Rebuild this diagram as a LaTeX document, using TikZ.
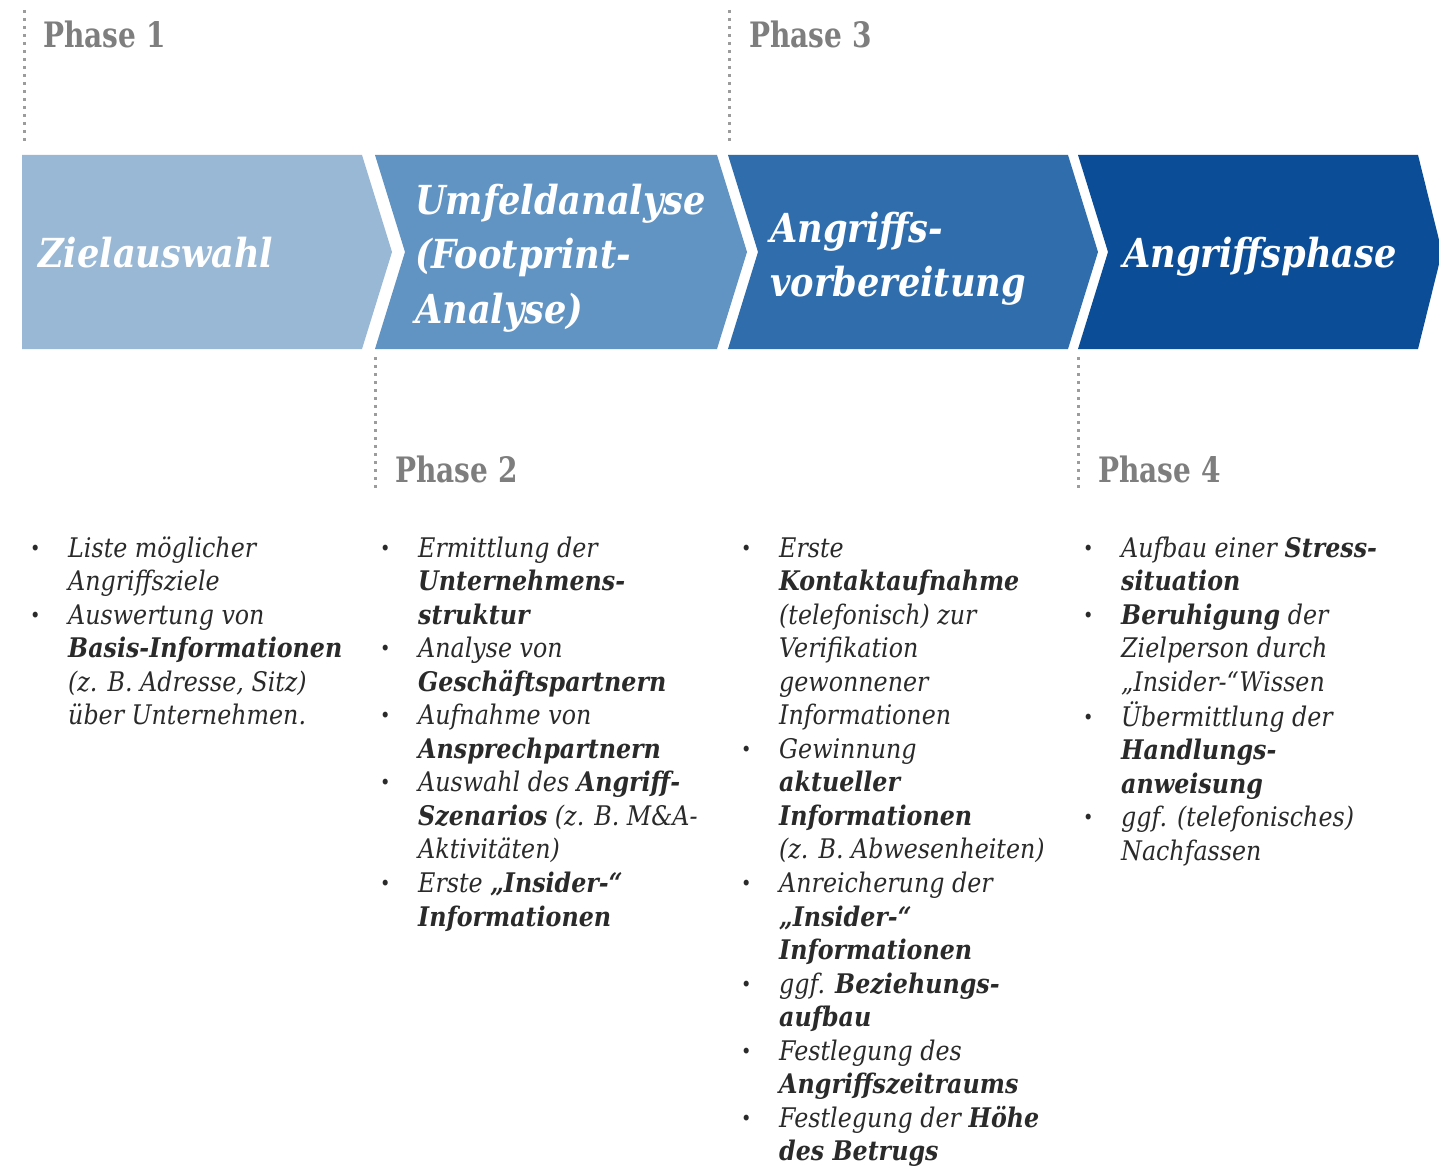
\documentclass[tikz,border=0pt]{standalone}
\usepackage{fontspec}
\setmainfont{DejaVu Serif}[FakeStretch=0.88]
\newfontfamily\phasefamily{DejaVu Serif}[FakeStretch=0.8]

\definecolor{chevA}{HTML}{98B8D5}
\definecolor{chevB}{HTML}{6193C3}
\definecolor{chevC}{HTML}{2F6DAD}
\definecolor{chevD}{HTML}{0B4E97}
\definecolor{phasegray}{HTML}{7E7E7E}
\definecolor{bodygray}{HTML}{2A2A2A}
\definecolor{guidegray}{HTML}{9C9C9C}

\newcommand{\chevfont}{\fontsize{40}{54}\selectfont\bfseries\itshape}
\newcommand{\phasefont}{\phasefamily\fontsize{35}{40}\selectfont\bfseries}
\newcommand{\bodyfont}{\fontsize{27}{33.55}\selectfont\itshape}
\newcommand{\hl}[1]{\textbf{#1}}
\newcommand{\bul}{\makebox[38pt][l]{\raisebox{2pt}{\fontsize{20}{20}\selectfont\upshape •}}}

\begin{document}
\begin{tikzpicture}[x=1pt,y=-1pt,
  chev/.style={fill=#1, draw=none},
  chevtext/.style={anchor=base west, inner sep=0pt, text=white, font=\chevfont},
  phase/.style={anchor=base west, inner sep=0pt, text=phasegray, font=\phasefont},
  col/.style={anchor=base west, inner sep=0pt, text=bodygray, font=\bodyfont},
  guide/.style={draw=guidegray, line width=3pt, dash pattern=on 3pt off 5pt}
]
\fill[white] (0,0) rectangle (1439,1166);
\path[use as bounding box] (0,0) rectangle (1439,1166);

% process chevrons
\fill[chev=chevA] (22,155) -- (362,155) -- (392,252) -- (362,349) -- (22,349) -- cycle;
\fill[chev=chevB] (375,155) -- (717,155) -- (747,252) -- (717,349) -- (375,349) -- (405,252) -- cycle;
\fill[chev=chevC] (728,155) -- (1068,155) -- (1098,252) -- (1068,349) -- (728,349) -- (758,252) -- cycle;
\fill[chev=chevD] (1078,155) -- (1418,155) -- (1442,252) -- (1418,349) -- (1078,349) -- (1108,252) -- cycle;

% dotted guides to the phase labels
\coordinate (g1a) at (24,10);   \coordinate (g1b) at (24,142);
\coordinate (g3a) at (729,10);  \coordinate (g3b) at (729,142);
\coordinate (g2a) at (375,357); \coordinate (g2b) at (375,490);
\coordinate (g4a) at (1078,357);\coordinate (g4b) at (1078,490);
\draw[guide] (g1a) -- (g1b);
\draw[guide] (g3a) -- (g3b);
\draw[guide] (g2a) -- (g2b);
\draw[guide] (g4a) -- (g4b);

% phase labels
\node[phase] (p1) at (43,48) {Phase 1};
\node[phase] (p3) at (749,48) {Phase 3};
\node[phase] (p2) at (395,482) {Phase 2};
\node[phase] (p4) at (1098,482) {Phase 4};

% chevron titles
\node[chevtext] (t1) at (38,268) {Zielauswahl};
\node[chevtext] (t2) at (415,215) {\begin{tabular}[t]{@{}l@{}}Umfeldanalyse\\(Footprint-\\Analyse)\end{tabular}};
\node[chevtext] (t3) at (770,243) {\begin{tabular}[t]{@{}l@{}}Angriffs-\\vorbereitung\end{tabular}};
\node[chevtext] (t4) at (1123,268) {Angriffsphase};

% bullet lists
\node[col] (c1) at (30,557) {\begin{tabular}[t]{@{}l@{}l@{}}
\bul & Liste möglicher\\
 & Angriffsziele\\
\bul & Auswertung von\\
 & \hl{Basis-Informationen}\\
 & (z. B. Adresse, Sitz)\\
 & über Unternehmen.
\end{tabular}};

\node[col] (c2) at (380,557) {\begin{tabular}[t]{@{}l@{}l@{}}
\bul & Ermittlung der\\
 & \hl{Unternehmens-}\\
 & \hl{struktur}\\
\bul & Analyse von\\
 & \hl{Geschäftspartnern}\\
\bul & Aufnahme von\\
 & \hl{Ansprechpartnern}\\
\bul & Auswahl des \hl{Angriff-}\\
 & \hl{Szenarios} (z. B. M\&A-\\
 & Aktivitäten)\\
\bul & Erste \hl{„Insider-“}\\
 & \hl{Informationen}
\end{tabular}};

\node[col] (c3) at (741,557) {\begin{tabular}[t]{@{}l@{}l@{}}
\bul & Erste\\
 & \hl{Kontaktaufnahme}\\
 & (telefonisch) zur\\
 & Verifikation\\
 & gewonnener\\
 & Informationen\\
\bul & Gewinnung\\
 & \hl{aktueller}\\
 & \hl{Informationen}\\
 & (z. B. Abwesenheiten)\\
\bul & Anreicherung der\\
 & \hl{„Insider-“}\\
 & \hl{Informationen}\\
\bul & ggf. \hl{Beziehungs-}\\
 & \hl{aufbau}\\
\bul & Festlegung des\\
 & \hl{Angriffszeitraums}\\
\bul & Festlegung der \hl{Höhe}\\
 & \hl{des Betrugs}
\end{tabular}};

\node[col] (c4) at (1083,557) {\begin{tabular}[t]{@{}l@{}l@{}}
\bul & Aufbau einer \hl{Stress-}\\
 & \hl{situation}\\
\bul & \hl{Beruhigung} der\\
 & Zielperson durch\\
 & „Insider-“Wissen\\
\bul & Übermittlung der\\
 & \hl{Handlungs-}\\
 & \hl{anweisung}\\
\bul & ggf. (telefonisches)\\
 & Nachfassen
\end{tabular}};
\end{tikzpicture}
\end{document}
